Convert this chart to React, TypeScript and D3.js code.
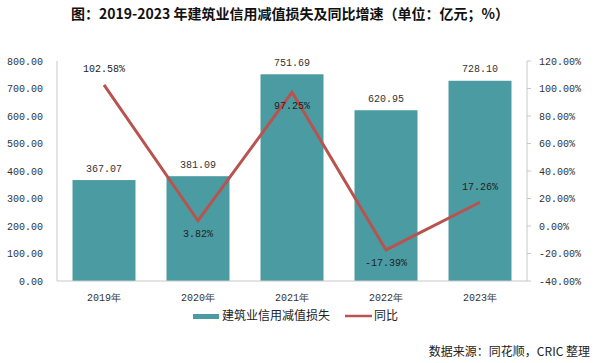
import React from 'react';
import * as d3 from 'd3';

const years = ['2019年', '2020年', '2021年', '2022年', '2023年'];
const losses = [367.07, 381.09, 751.69, 620.95, 728.1];
const growth = [102.58, 3.82, 97.25, -17.39, 17.26];
const leftTicks = [0, 100, 200, 300, 400, 500, 600, 700, 800];
const rightTicks = [-40, -20, 0, 20, 40, 60, 80, 100, 120];
// label above (true) or below (false) each line point
const growthLabelAbove = [true, false, false, false, true];

const W = 600;
const H = 363;
const margin = { top: 61, right: 70, bottom: 82, left: 57 };
const barColor = '#4a9ca2';
const lineColor = '#b9534f';
const axisColor = '#c8c8c8';
const mono = '"Liberation Mono", "DejaVu Sans Mono", monospace';
const cjk = '"Noto Sans CJK SC", "Noto Sans", sans-serif';

const App: React.FC = () => {
  const x0 = margin.left;
  const x1 = W - margin.right - 3;
  const y0 = H - margin.bottom;
  const y1 = margin.top;

  const x = d3.scaleBand<string>().domain(years).range([x0, x1]).paddingInner(0.33).paddingOuter(0.165);
  const yL = d3.scaleLinear().domain([0, 800]).range([y0, y1]);
  const yR = d3.scaleLinear().domain([-40, 120]).range([y0, y1]);

  const cx = (i: number) => (x(years[i]) as number) + x.bandwidth() / 2;
  const line = d3.line<number>()
    .x((_, i) => cx(i))
    .y(d => yR(d));

  return (
    <svg width={W} height={H} style={{ position: 'absolute', left: 0, top: 0, background: '#fff' }}>
      {/* title */}
      <text x={290} y={14} dy="0.35em" textAnchor="middle" fontFamily={cjk} fontWeight="bold" fontSize={14} fill="#111">
        图：2019-2023 年建筑业信用减值损失及同比增速（单位：亿元；%）
      </text>

      {/* left axis */}
      <line x1={x0} x2={x0} y1={y1} y2={y0} stroke={axisColor} />
      {leftTicks.map(t => (
        <text key={t} x={43} y={yL(t)} dy="0.35em" textAnchor="end" fontFamily={mono} fontSize={10} fill="#333">
          {t.toFixed(2)}
        </text>
      ))}

      {/* right axis */}
      <line x1={x1} x2={x1} y1={y1} y2={y0} stroke={axisColor} />
      {rightTicks.map(t => (
        <g key={t}>
          <line x1={x1} x2={x1 + 4} y1={yR(t)} y2={yR(t)} stroke={axisColor} />
          <text x={539} y={yR(t)} dy="0.35em" fontFamily={mono} fontSize={10} fill="#333">
            {t.toFixed(2)}%
          </text>
        </g>
      ))}

      {/* bars */}
      {losses.map((v, i) => (
        <g key={years[i]}>
          <rect x={x(years[i])} y={yL(v)} width={x.bandwidth()} height={y0 - yL(v)} fill={barColor} />
          <text x={cx(i)} y={yL(v) - 12} dy="0.35em" textAnchor="middle" fontFamily={mono} fontSize={10} fill="#333">
            {v.toFixed(2)}
          </text>
        </g>
      ))}

      {/* bottom axis */}
      <line x1={x0} x2={x1} y1={y0} y2={y0} stroke={axisColor} />
      {years.map((yr, i) => (
        <text key={yr} x={cx(i)} y={y0 + 16} dy="0.35em" textAnchor="middle" fontFamily={mono} fontSize={10} fill="#333">
          {yr}
        </text>
      ))}

      {/* growth line */}
      <path d={line(growth) as string} fill="none" stroke={lineColor} strokeWidth={3} strokeLinejoin="miter" />
      {growth.map((g, i) => (
        <text
          key={i}
          x={cx(i)}
          y={yR(g) + (growthLabelAbove[i] ? -16 : 13)}
          dy="0.35em"
          textAnchor="middle"
          fontFamily={mono}
          fontSize={10}
          fill="#222"
        >
          {g.toFixed(2)}%
        </text>
      ))}

      {/* legend */}
      <rect x={193} y={314} width={26} height={5} fill={barColor} />
      <text x={222} y={316} dy="0.35em" fontFamily={cjk} fontSize={12} fill="#222">建筑业信用减值损失</text>
      <line x1={345} x2={372} y1={316} y2={316} stroke={lineColor} strokeWidth={2.5} />
      <text x={374} y={316} dy="0.35em" fontFamily={cjk} fontSize={12} fill="#222">同比</text>

      {/* source */}
      <text x={590} y={352} dy="0.35em" textAnchor="end" fontFamily={cjk} fontSize={12} fill="#222">
        数据来源：同花顺，CRIC 整理
      </text>
    </svg>
  );
};

export default App;
